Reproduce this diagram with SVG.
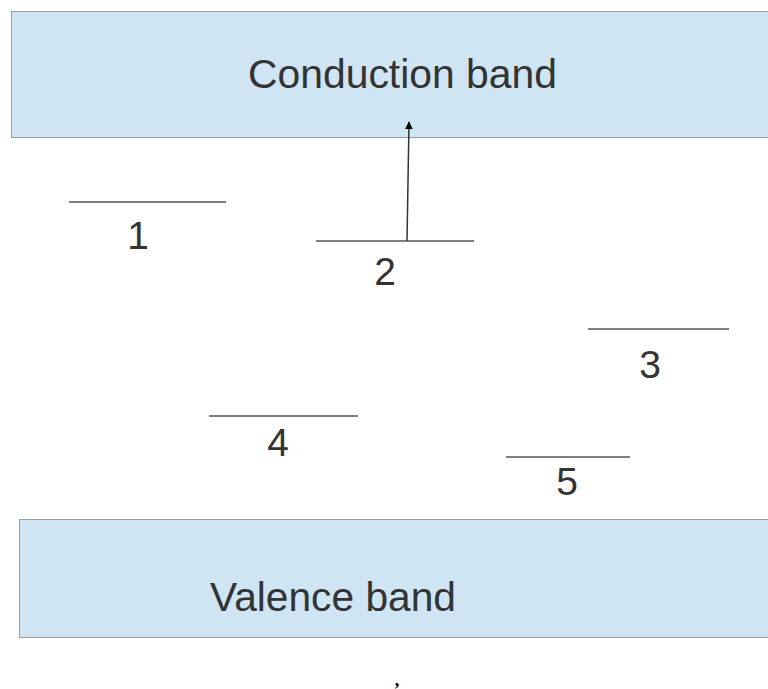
<svg xmlns="http://www.w3.org/2000/svg" width="768" height="689" viewBox="0 0 768 689">
<defs>
<style>
.band{fill:#cfe5f3;stroke:#9e9e9e;stroke-width:1}
.lvl{stroke:#555;stroke-width:1.5}
.big{font-family:"Liberation Sans",Arial,sans-serif;font-size:41px;fill:#333}
.num{font-family:"Liberation Sans",Arial,sans-serif;font-size:39px;fill:#333;text-anchor:middle}
</style>
<marker id="ah" viewBox="0 0 10 10" refX="9" refY="5" markerWidth="5.5" markerHeight="5.5" orient="auto">
<path d="M0,0 L10,5 L0,10 z" fill="#000"/>
</marker>
</defs>
<rect width="768" height="689" fill="#fff"/>
<g id="conduction">
<rect class="band" x="11.5" y="11.5" width="760" height="126"/>
<text class="big" x="248" y="88" textLength="309" lengthAdjust="spacingAndGlyphs">Conduction band</text>
</g>
<g id="valence">
<rect class="band" x="19.5" y="519.5" width="752" height="118"/>
<text class="big" x="210" y="611" textLength="246" lengthAdjust="spacingAndGlyphs">Valence band</text>
</g>
<g id="level1">
<line class="lvl" x1="69" y1="202" x2="226" y2="202"/>
<text class="num" x="138" y="249">1</text>
</g>
<g id="level2">
<line class="lvl" x1="316" y1="241" x2="474" y2="241"/>
<text class="num" x="385" y="285">2</text>
</g>
<g id="level3">
<line class="lvl" x1="588" y1="329" x2="729" y2="329"/>
<text class="num" x="650" y="378">3</text>
</g>
<g id="level4">
<line class="lvl" x1="209" y1="416" x2="358" y2="416"/>
<text class="num" x="278" y="456">4</text>
</g>
<g id="level5">
<line class="lvl" x1="506" y1="457" x2="630" y2="457"/>
<text class="num" x="567" y="495">5</text>
</g>
<g id="connectors">
<line x1="407" y1="241" x2="409" y2="122" stroke="#333" stroke-width="1.5" marker-end="url(#ah)"/>
</g>
<text x="397" y="686" font-family="Liberation Serif,serif" font-weight="bold" font-size="18" fill="#000" text-anchor="middle">,</text>
</svg>
